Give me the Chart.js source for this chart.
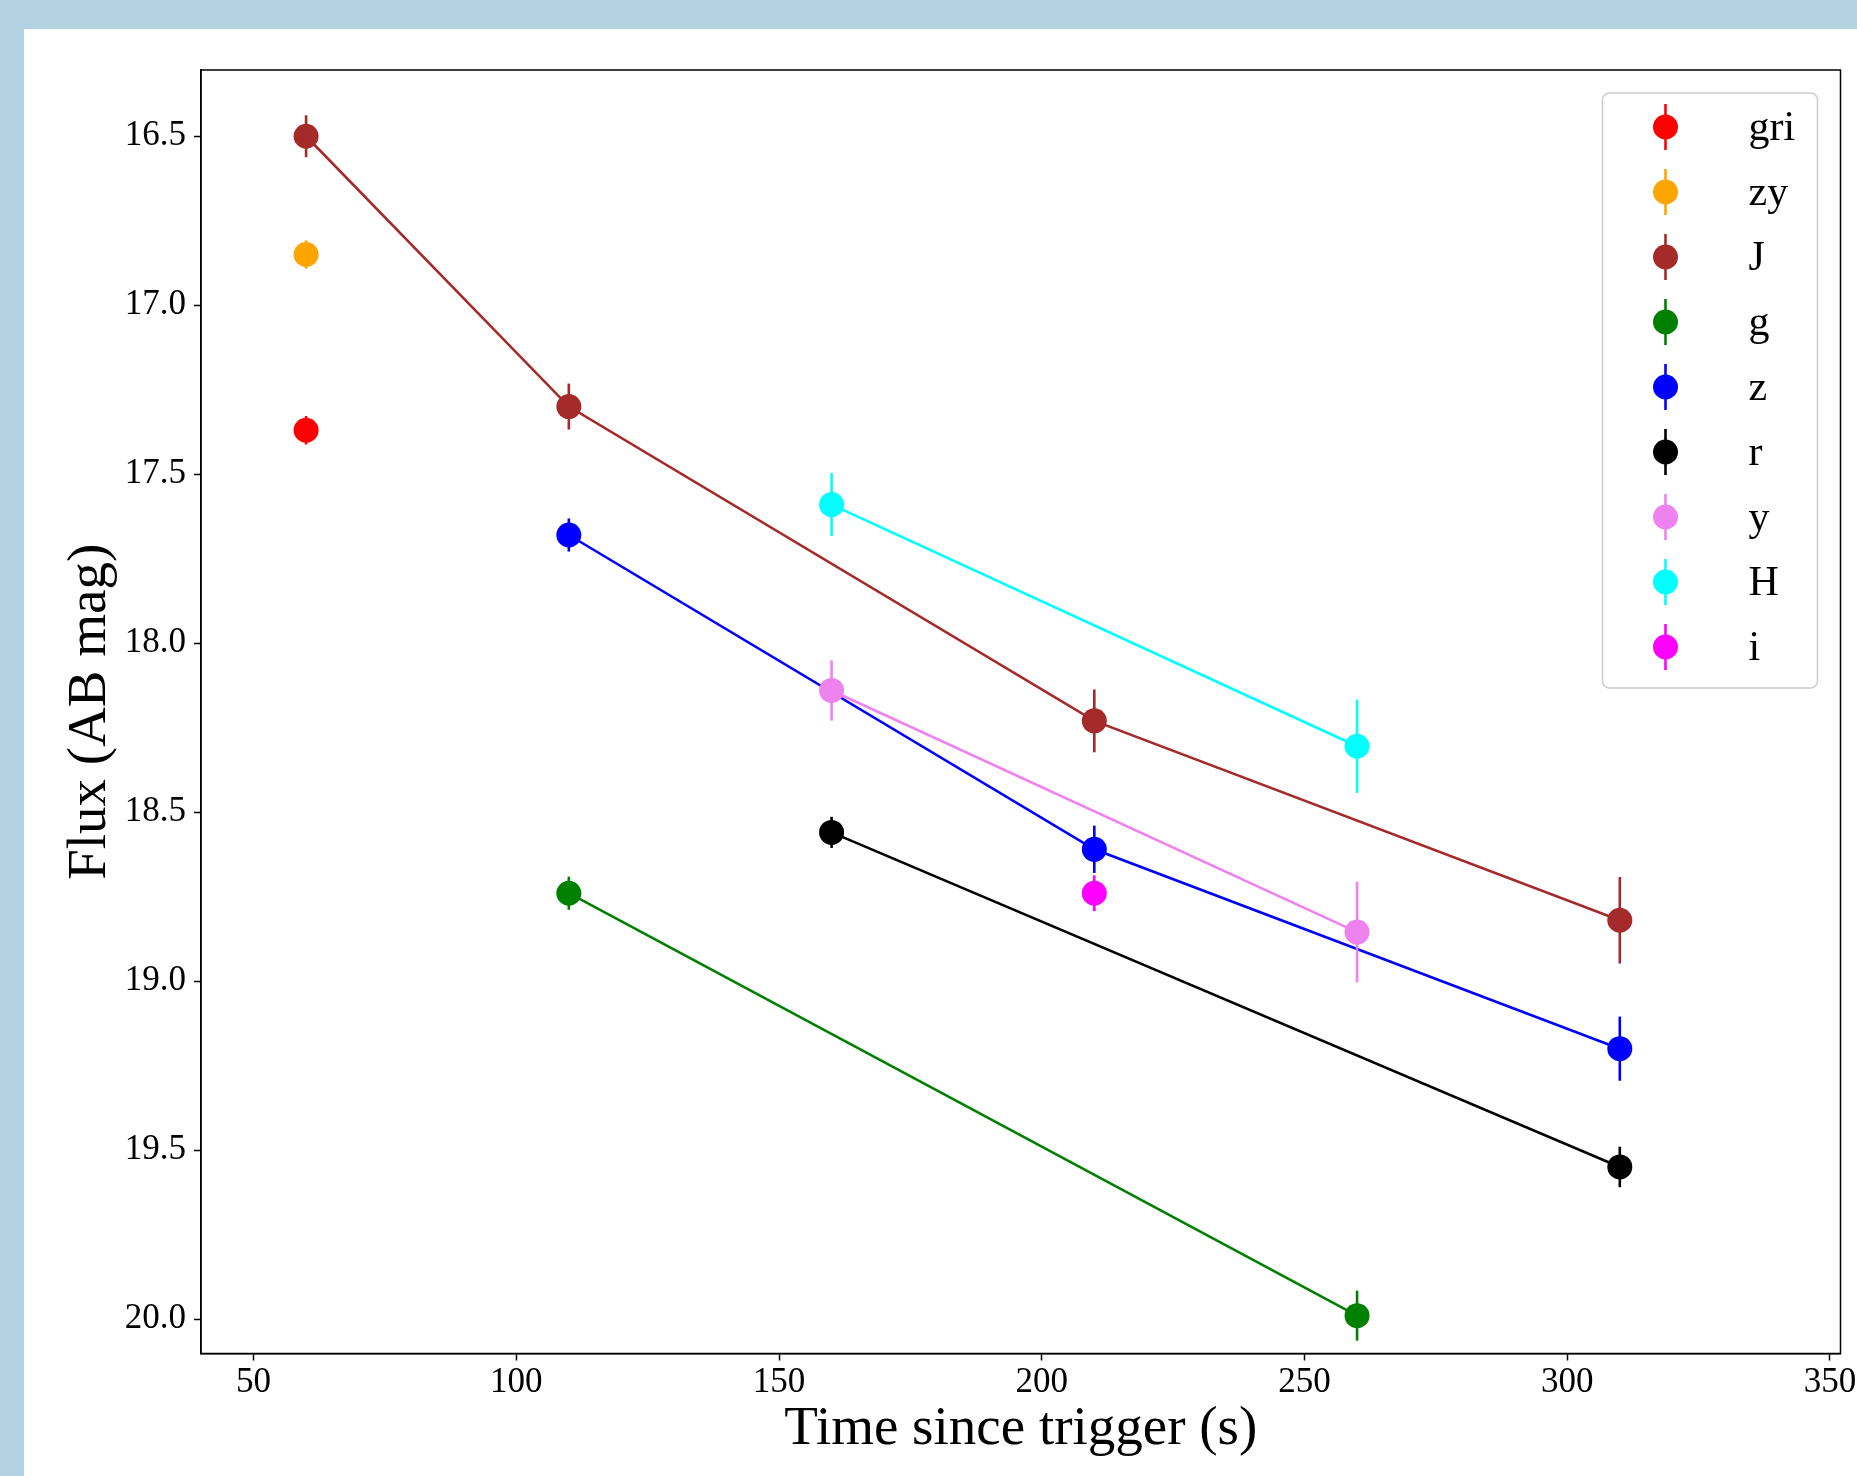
<!DOCTYPE html>
<html lang="en">
<head>
    <meta charset="UTF-8"/>
    <title>Flux vs time since trigger</title>
    <style>
        html, body { margin: 0; padding: 0; background: #b3d3e2; overflow: hidden; }
        #paper { position: absolute; left: 24px; top: 29px; width: 1833px; height: 1447px; background: #ffffff; }
        #myChart { position: absolute; left: 0; top: 0; }
    </style>
    <script src="https://cdn.jsdelivr.net/npm/chart.js"></script>
</head>
<body>
    <div id="paper"></div>
    <canvas id="myChart" width="1857" height="1476"></canvas>
    <script>
        // photometry per band: time (s), AB magnitude, 1-sigma error
        const bands = ['gri', 'zy', 'J', 'g', 'z', 'r', 'y', 'H', 'i'];
        const griTime = [60];
        const griMag = [17.37];
        const griErr = [0.042];
        const zyTime = [60];
        const zyMag = [16.85];
        const zyErr = [0.042];
        const jTime = [60, 110, 210, 310];
        const jMag = [16.50, 17.30, 18.23, 18.82];
        const jErr = [0.062, 0.068, 0.093, 0.128];
        const gTime = [110, 260];
        const gMag = [18.74, 19.99];
        const gErr = [0.049, 0.074];
        const zTime = [110, 210, 310];
        const zMag = [17.68, 18.61, 19.20];
        const zErr = [0.049, 0.070, 0.095];
        const rTime = [160, 310];
        const rMag = [18.56, 19.55];
        const rErr = [0.046, 0.060];
        const yTime = [160, 260];
        const yMag = [18.14, 18.855];
        const yErr = [0.089, 0.149];
        const hTime = [160, 260];
        const hMag = [17.59, 18.305];
        const hErr = [0.093, 0.138];
        const iTime = [210];
        const iMag = [18.74];
        const iErr = [0.053];

        const xTicks = [50, 100, 150, 200, 250, 300, 350];
        const yTicks = [16.5, 17.0, 17.5, 18.0, 18.5, 19.0, 19.5, 20.0];

        const times = [griTime, zyTime, jTime, gTime, zTime, rTime, yTime, hTime, iTime];
        const mags = [griMag, zyMag, jMag, gMag, zMag, rMag, yMag, hMag, iMag];
        const errs = [griErr, zyErr, jErr, gErr, zErr, rErr, yErr, hErr, iErr];
        const colors = ['#ff0000', '#ffa500', '#a52a2a', '#008000', '#0000ff', '#000000', '#ee82ee', '#00ffff', '#ff00ff'];

        const serif = "'Liberation Serif', 'DejaVu Serif', serif";

        var datasets = bands.map(function(b, i) {
            return {
                label: b,
                data: times[i].map(function(t, k) { return {x: t, y: mags[i][k]}; }),
                errors: errs[i],
                showLine: times[i].length > 1,
                borderColor: colors[i],
                backgroundColor: colors[i],
                borderWidth: 2.6,
                pointRadius: 12.5,
                pointHoverRadius: 12.5,
                pointBorderWidth: 0,
                pointBackgroundColor: colors[i],
                order: bands.length - i
            };
        });

        // vertical error bars, drawn just under each dataset's markers
        var errorBars = {
            id: 'errorBars',
            beforeDatasetDraw: function(chart, args) {
                var ds = chart.data.datasets[args.index];
                var xs = chart.scales.x, ys = chart.scales.y;
                var ctx = chart.ctx;
                ctx.save();
                ctx.strokeStyle = ds.borderColor;
                ctx.lineWidth = 2.6;
                ds.data.forEach(function(p, k) {
                    var px = xs.getPixelForValue(p.x);
                    ctx.beginPath();
                    ctx.moveTo(px, ys.getPixelForValue(p.y - ds.errors[k]));
                    ctx.lineTo(px, ys.getPixelForValue(p.y + ds.errors[k]));
                    ctx.stroke();
                });
                ctx.restore();
            }
        };

        // top/right spines and the legend box in the upper right corner
        var frameAndLegend = {
            id: 'frameAndLegend',
            afterDraw: function(chart) {
                var ctx = chart.ctx, a = chart.chartArea;
                ctx.save();
                ctx.strokeStyle = '#000';
                ctx.lineWidth = 1.5;
                ctx.strokeRect(a.left, a.top, a.right - a.left, a.bottom - a.top);

                var w = 215, rowH = 65;
                var bx = a.right - 23 - w, by = a.top + 23;
                var bh = 34 + (bands.length - 1) * rowH + 41;
                ctx.beginPath();
                ctx.roundRect(bx, by, w, bh, 7);
                ctx.fillStyle = 'rgba(255,255,255,0.8)';
                ctx.fill();
                ctx.strokeStyle = '#cccccc';
                ctx.lineWidth = 1.5;
                ctx.stroke();

                ctx.font = '42px ' + serif;
                ctx.textBaseline = 'middle';
                ctx.textAlign = 'left';
                bands.forEach(function(b, i) {
                    var cy = by + 34 + i * rowH;
                    var mx = bx + 63;
                    ctx.strokeStyle = colors[i];
                    ctx.lineWidth = 2.6;
                    ctx.beginPath();
                    ctx.moveTo(mx, cy - 23);
                    ctx.lineTo(mx, cy + 23);
                    ctx.stroke();
                    ctx.fillStyle = colors[i];
                    ctx.beginPath();
                    ctx.arc(mx, cy, 12.5, 0, Math.PI * 2);
                    ctx.fill();
                    ctx.fillStyle = '#000';
                    ctx.fillText(b, bx + 146, cy + 2);
                });
                ctx.restore();
            }
        };

        var ctx = document.getElementById('myChart').getContext('2d');
        var myChart = new Chart(ctx, {
            type: 'scatter',
            data: { datasets: datasets },
            plugins: [errorBars, frameAndLegend],
            options: {
                responsive: false,
                animation: false,
                devicePixelRatio: 1,
                layout: { padding: { left: 0, top: 70, right: 16.5, bottom: 0 } },
                plugins: {
                    legend: { display: false },
                    tooltip: { enabled: false }
                },
                elements: { line: { tension: 0 } },
                scales: {
                    x: {
                        type: 'linear',
                        min: 40,
                        max: 352,
                        afterBuildTicks: function(scale) {
                            scale.ticks = xTicks.map(function(v) { return {value: v}; });
                        },
                        afterFit: function(scale) {
                            scale.height = 122.5;
                            scale.paddingLeft = 0;
                            scale.paddingRight = 0;
                        },
                        grid: { drawOnChartArea: false, drawTicks: true, tickLength: 7, tickColor: '#000', tickWidth: 1.5 },
                        border: { display: true, color: '#000', width: 1.5 },
                        ticks: {
                            color: '#000',
                            padding: 1,
                            maxRotation: 0,
                            font: { family: serif, size: 35 },
                            callback: function(v) { return String(v); }
                        },
                        title: {
                            display: true,
                            text: 'Time since trigger (s)',
                            color: '#000',
                            font: { family: serif, size: 55, lineHeight: 1 },
                            padding: { top: 0, bottom: 18.5 }
                        }
                    },
                    y: {
                        type: 'linear',
                        reverse: true,
                        min: 16.304,
                        max: 20.102,
                        afterBuildTicks: function(scale) {
                            scale.ticks = yTicks.map(function(v) { return {value: v}; });
                        },
                        afterFit: function(scale) {
                            scale.width = 201;
                            scale.paddingTop = 0;
                            scale.paddingBottom = 0;
                        },
                        grid: { drawOnChartArea: false, drawTicks: true, tickLength: 7, tickColor: '#000', tickWidth: 1.5 },
                        border: { display: true, color: '#000', width: 1.5 },
                        ticks: {
                            color: '#000',
                            padding: 8,
                            font: { family: serif, size: 35 },
                            callback: function(v) { return v.toFixed(1); }
                        },
                        title: {
                            display: true,
                            text: 'Flux (AB mag)',
                            color: '#000',
                            font: { family: serif, size: 55, lineHeight: 1 },
                            padding: { top: 63.5, bottom: 0 }
                        }
                    }
                }
            }
        });
    </script>
</body>
</html>
